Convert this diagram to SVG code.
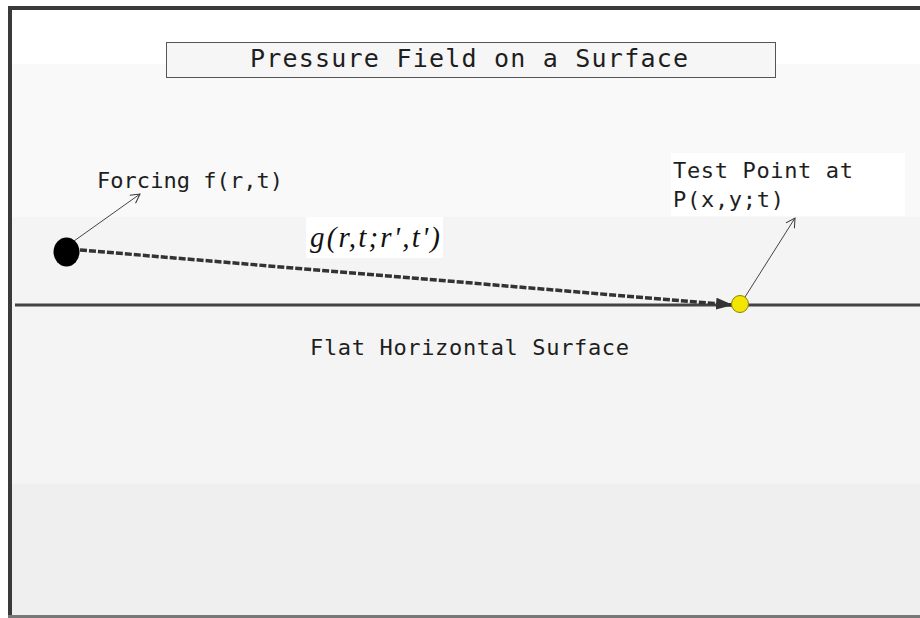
<svg xmlns="http://www.w3.org/2000/svg" width="920" height="618" viewBox="0 0 920 618">
<defs>
<style>
.mono{font-family:"DejaVu Sans Mono","Liberation Mono",monospace;fill:#1e1e1e;}
.math{font-family:"Liberation Serif","Times New Roman",serif;font-style:italic;fill:#111;}
.thin{stroke:#444;stroke-width:1;fill:none;}
</style>
<marker id="open" markerWidth="12" markerHeight="12" refX="10" refY="6" orient="auto" markerUnits="userSpaceOnUse">
<path d="M1,1 L10,6 L1,11" fill="none" stroke="#333" stroke-width="1"/>
</marker>
<marker id="solid" markerWidth="18" markerHeight="12" refX="16" refY="6" orient="auto" markerUnits="userSpaceOnUse">
<path d="M0,0 L17,6 L0,12 Z" fill="#333"/>
</marker>
</defs>
<g id="background">
<rect x="0" y="0" width="920" height="618" fill="#ffffff"/>
<rect x="8" y="64" width="912" height="153" fill="#f9f9f9"/>
<rect x="8" y="217" width="912" height="267" fill="#f4f4f4"/>
<rect x="8" y="484" width="912" height="132" fill="#efefef"/>
<rect x="8" y="6" width="912" height="4" fill="#3a3a3a"/>
<rect x="8" y="6" width="4" height="612" fill="#3a3a3a"/>
<rect x="8" y="615" width="912" height="3" fill="#777"/>
</g>
<g id="title">
<rect x="166.5" y="42.5" width="609" height="35" fill="#f6f6f6" stroke="#555" stroke-width="1"/>
<text class="mono" x="250" y="67" font-size="25" textLength="438" lengthAdjust="spacing">Pressure Field on a Surface</text>
</g>
<g id="surface">
<line x1="15" y1="305" x2="920" y2="305" stroke="#444" stroke-width="3"/>
<text class="mono" x="310" y="355" font-size="22" textLength="319" lengthAdjust="spacing">Flat Horizontal Surface</text>
</g>
<g id="connectors">
<line x1="80" y1="250" x2="732" y2="305" stroke="#333" stroke-width="3.5" stroke-dasharray="7 2" marker-end="url(#solid)"/>
<line class="thin" x1="74" y1="241" x2="140" y2="194" marker-end="url(#open)"/>
<line class="thin" x1="745" y1="297" x2="795" y2="218" marker-end="url(#open)"/>
</g>
<g id="forcing">
<ellipse cx="66.5" cy="252" rx="13" ry="14.5" fill="#000"/>
<text class="mono" x="97" y="188" font-size="22" textLength="186" lengthAdjust="spacing">Forcing f(r,t)</text>
</g>
<g id="green-label">
<rect x="306" y="217" width="137" height="41" fill="#ffffff"/>
<text class="math" x="310" y="247" font-size="29" textLength="130" lengthAdjust="spacing">g(r,t;r',t')</text>
</g>
<g id="test-point">
<rect x="671" y="153" width="234" height="63" fill="#ffffff"/>
<circle cx="740" cy="304" r="8.5" fill="#f2e600" stroke="#8a8400" stroke-width="1"/>
<text class="mono" x="673" y="178" font-size="22" textLength="180" lengthAdjust="spacing">Test Point at</text>
<text class="mono" x="673" y="207" font-size="22" textLength="111" lengthAdjust="spacing">P(x,y;t)</text>
</g>
</svg>
